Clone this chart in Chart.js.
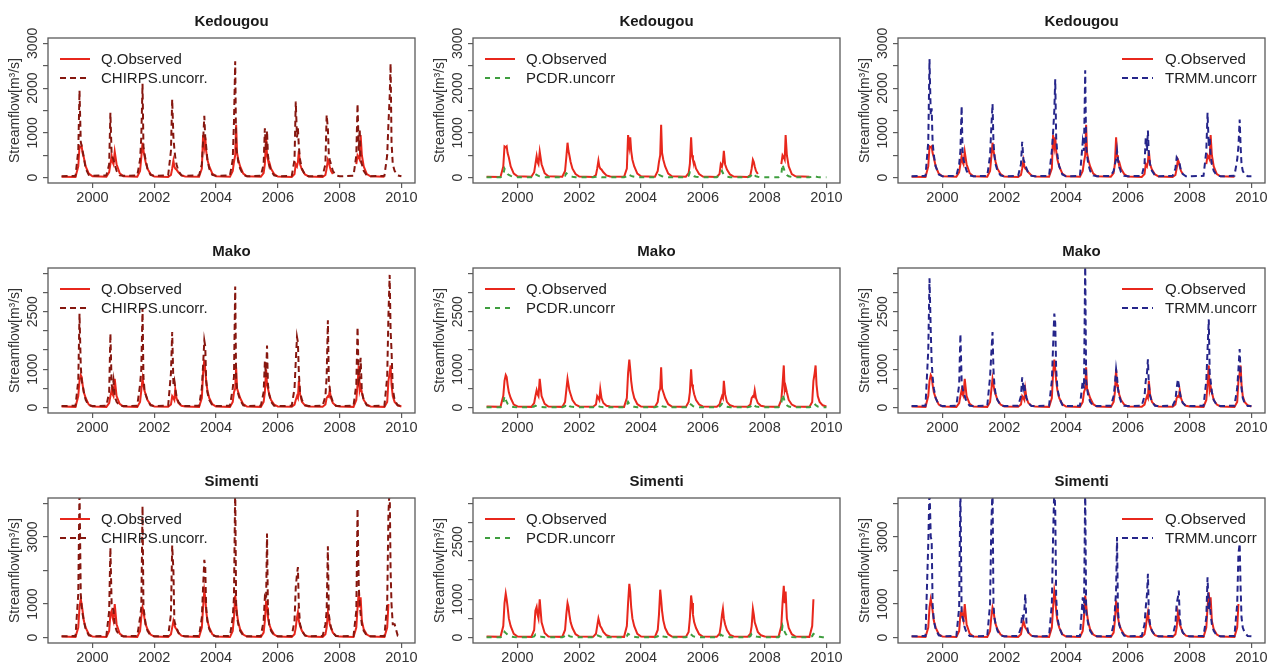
<!DOCTYPE html>
<html><head><meta charset="utf-8">
<script src="https://cdn.jsdelivr.net/npm/chart.js@4.4.0/dist/chart.umd.min.js"></script>
<style>
html,body{margin:0;padding:0;background:#fff;width:1274px;height:664px;overflow:hidden;}
canvas{position:absolute;}
</style></head><body>
<script>
// decimal-year sample dates (same for every series)
const dates = [
1999.00,1999.45,1999.54,1999.58,1999.62,1999.65,1999.68,1999.72,1999.78,1999.88,
2000.00,2000.45,2000.54,2000.58,2000.62,2000.65,2000.68,2000.72,2000.78,2000.88,
2001.00,2001.45,2001.54,2001.58,2001.62,2001.65,2001.68,2001.72,2001.78,2001.88,
2002.00,2002.45,2002.54,2002.58,2002.62,2002.65,2002.68,2002.72,2002.78,2002.88,
2003.00,2003.45,2003.54,2003.58,2003.62,2003.65,2003.68,2003.72,2003.78,2003.88,
2004.00,2004.45,2004.54,2004.58,2004.62,2004.65,2004.68,2004.72,2004.78,2004.88,
2005.00,2005.45,2005.54,2005.58,2005.62,2005.65,2005.68,2005.72,2005.78,2005.88,
2006.00,2006.45,2006.54,2006.58,2006.62,2006.65,2006.68,2006.72,2006.78,2006.88,
2007.00,2007.45,2007.54,2007.58,2007.62,2007.65,2007.68,2007.72,2007.78,2007.88,
2008.00,2008.45,2008.54,2008.58,2008.62,2008.65,2008.68,2008.72,2008.78,2008.88,
2009.00,2009.45,2009.54,2009.58,2009.62,2009.65,2009.68,2009.72,2009.78,2009.88,
2010.00];

const stations = ['Kedougou','Mako','Simenti'];
const products = ['CHIRPS.uncorr.','PCDR.uncorr','TRMM.uncorr'];
const xTickYears = [2000,2002,2004,2006,2008,2010];

// ---- Kedougou ----
const kedObs = [
20,15,250,700,680,700,550,450,250,90,
30,20,120,300,480,350,300,580,300,100,
30,20,150,450,780,600,500,350,200,80,
25,15,60,200,380,250,200,180,120,50,
25,20,200,950,700,900,600,400,250,90,
30,20,150,350,500,1180,550,400,250,90,
30,20,100,300,900,500,400,350,200,80,
25,15,80,300,250,350,600,300,180,70,
25,15,60,200,400,350,250,150,80,null,
null,null,300,500,450,400,950,500,250,80,
30,20,null,null,null,null,null,null,null,null,
null];
const kedChirps = [
30,40,600,1950,800,700,600,450,200,60,
40,50,300,1450,500,450,400,300,150,50,
40,50,400,900,2100,700,550,400,200,60,
40,50,600,1750,900,650,450,300,150,50,
40,50,300,800,1380,900,700,400,200,60,
40,50,400,1250,2600,650,550,350,200,60,
30,40,300,1100,600,1050,500,300,150,50,
30,40,400,1700,900,1100,700,400,200,60,
30,40,300,1400,1100,500,400,300,150,50,
30,40,500,1650,600,1100,400,300,150,50,
30,40,500,1200,1800,2550,800,300,150,50,
30];
const kedPcdr = [
10,10,60,200,150,120,80,60,40,20,
10,10,30,80,60,50,40,30,20,10,
10,10,40,100,80,60,40,30,20,10,
10,10,20,30,25,20,15,10,10,10,
10,10,30,80,60,50,40,30,20,10,
10,10,30,60,50,40,30,20,15,10,
10,10,40,120,90,70,50,30,20,10,
10,10,50,100,150,100,70,40,20,10,
10,10,30,60,100,80,50,30,20,10,
10,10,80,300,200,150,100,60,30,15,
10,10,20,40,30,25,20,15,10,10,
10];
const kedTrmm = [
30,40,800,2650,1400,1550,800,500,250,70,
30,40,300,600,1600,600,400,300,150,50,
30,40,500,1100,1650,800,500,300,150,50,
30,40,300,800,400,350,300,200,100,40,
30,40,600,1000,1500,2200,900,500,250,70,
30,40,800,600,2400,700,500,300,150,50,
30,40,150,300,400,600,400,250,120,40,
30,40,300,900,600,1050,500,300,150,50,
30,40,200,450,400,350,300,150,80,30,
30,40,600,1450,700,900,500,300,150,50,
30,40,400,700,1300,700,300,150,80,30,
30];

// ---- Mako ----
const makObs = [
30,20,300,700,850,800,600,400,250,80,
30,20,120,300,450,350,300,750,300,100,
30,20,150,450,750,600,450,350,200,80,
30,20,80,300,250,200,480,250,120,50,
30,20,250,900,1250,1000,700,450,250,90,
30,20,150,400,500,1050,500,400,250,90,
30,20,150,400,1000,600,500,350,200,80,
30,20,80,200,300,250,700,350,150,60,
30,20,80,250,300,280,450,250,120,50,
30,20,200,600,1100,450,550,400,200,80,
30,20,150,700,900,1100,600,300,150,60,
30];
const makChirps = [
40,50,700,2450,1100,700,600,400,200,60,
40,50,400,1930,600,500,700,300,150,50,
40,50,600,1000,2600,800,500,350,200,60,
40,50,900,1970,600,700,500,300,150,50,
40,50,500,1100,1750,1600,700,400,200,60,
40,50,500,800,3160,700,500,350,200,60,
40,50,400,1200,800,1620,600,350,150,50,
40,50,500,1200,1840,1700,900,400,200,60,
40,50,300,800,2280,700,500,300,150,50,
40,50,600,2100,700,800,1300,400,200,60,
40,50,800,2400,3460,2000,1500,500,200,60,
40];
const makPcdr = [
10,10,100,300,200,150,100,60,30,15,
10,10,30,50,40,35,30,20,15,10,
10,10,40,100,80,60,40,30,20,10,
10,10,20,50,40,30,25,20,10,10,
10,10,50,150,100,80,60,40,20,10,
10,10,30,80,60,50,40,30,20,10,
10,10,40,100,80,60,40,30,20,10,
10,10,30,60,100,80,50,30,20,10,
10,10,30,60,100,80,50,30,20,10,
10,10,100,350,250,150,100,60,30,15,
10,10,30,80,100,70,50,30,20,10,
10];
const makTrmm = [
40,50,1500,3370,2000,1200,800,500,250,70,
40,50,600,1920,700,500,400,300,150,50,
40,50,800,1400,1970,1000,600,350,200,60,
40,50,300,790,500,600,400,250,120,40,
40,50,700,1600,2450,2200,1000,500,250,70,
40,50,700,500,3800,700,500,300,150,50,
40,50,300,600,1000,800,500,300,150,50,
40,50,300,700,900,1260,600,300,150,50,
40,50,200,500,740,600,400,250,120,40,
40,50,700,1500,2300,900,700,400,200,60,
40,50,500,1000,1530,900,500,250,120,40,
40];

// ---- Simenti ----
const simObs = [
30,20,300,900,1150,1000,800,500,300,100,
30,20,200,700,800,600,500,1000,400,120,
30,20,200,600,900,800,600,400,250,90,
30,20,100,300,500,400,300,250,150,60,
30,20,300,900,1400,1200,800,500,300,100,
30,20,200,600,1250,1000,700,450,250,90,
30,20,150,500,1100,900,600,400,250,90,
30,20,100,300,600,750,500,350,200,70,
30,20,100,300,750,600,400,300,150,60,
30,20,300,900,1350,900,1200,500,250,90,
30,20,300,1000,null,null,null,null,null,null,
null];
const simChirps = [
40,50,1300,4500,1300,900,700,500,250,70,
40,50,800,2680,1000,900,800,400,200,60,
40,50,600,900,3920,900,700,400,200,60,
40,50,700,2750,2000,500,400,300,150,50,
40,50,600,1500,2320,2100,900,500,250,70,
40,50,600,1200,4500,900,600,400,200,60,
40,50,500,1200,1100,3100,800,400,200,60,
40,50,500,1500,1900,2100,900,400,200,60,
40,50,400,800,2720,700,500,300,150,50,
40,50,800,3850,1500,1000,700,400,200,60,
40,50,1000,3700,4500,2000,1000,400,400,60,
40];
const simPcdr = [
10,10,60,150,120,100,70,50,30,15,
10,10,30,80,60,50,40,30,20,10,
10,10,40,100,80,60,40,30,20,10,
10,10,20,60,50,40,30,20,10,10,
10,10,40,100,80,60,40,30,20,10,
10,10,30,80,60,50,40,30,20,10,
10,10,40,100,80,60,40,30,20,10,
10,10,30,80,60,50,40,30,20,10,
10,10,40,100,80,60,40,30,20,10,
10,10,100,300,200,150,100,60,30,15,
10,10,40,100,80,60,40,30,20,10,
10];
const simTrmm = [
40,50,2800,4500,3000,2900,1000,500,250,70,
40,50,900,4500,700,600,500,300,150,50,
40,50,1000,3300,4500,1000,600,400,200,60,
40,50,300,700,600,800,1300,400,150,50,
40,50,1000,3000,4500,3800,1200,600,300,80,
40,50,1200,700,4500,800,600,400,200,60,
40,50,400,800,1400,3000,800,400,200,60,
40,50,400,900,1300,1900,700,400,200,60,
40,50,400,1000,1200,1400,600,300,150,50,
40,50,600,1800,800,1000,700,400,200,60,
40,50,1000,2500,2800,1500,600,300,150,50,
40];

// axis settings per panel [row][col]
const yMaxes = [[3000,3000,3000],[3500,3500,3500],[4000,3500,4000]];
const ySteps = [[500,500,500],[500,500,500],[1000,500,1000]];
const yLabelVals = [
  [[0,1000,2000,3000],[0,1000,2000,3000],[0,1000,2000,3000]],
  [[0,1000,2500],[0,1000,2500],[0,1000,2500]],
  [[0,1000,3000],[0,1000,2500],[0,1000,3000]]];

const obsSeries = [kedObs, makObs, simObs];
const prodSeries = [[kedChirps,kedPcdr,kedTrmm],[makChirps,makPcdr,makTrmm],[simChirps,simPcdr,simTrmm]];

const OBS_COLOR = '#e8271c';
const PROD_COLORS = ['#86170f','#3f9e3f','#25258a'];
const PROD_DASH = [[6,4],[5,5],[6,4]];
const FONT = '"Liberation Sans", Arial, Helvetica, sans-serif';

const decor = {
  id: 'decor',
  afterDraw(chart, args, o) {
    const ctx = chart.ctx, ca = chart.chartArea;
    ctx.save();
    // box
    ctx.strokeStyle = '#5a5a5a'; ctx.lineWidth = 1.3; ctx.setLineDash([]);
    ctx.strokeRect(ca.left, ca.top, ca.right - ca.left, ca.bottom - ca.top);
    // title
    ctx.fillStyle = '#1a1a1a';
    ctx.font = 'bold 15px ' + FONT;
    ctx.textAlign = 'center'; ctx.textBaseline = 'middle';
    ctx.fillText(o.title, (ca.left + ca.right) / 2, ca.top - 16.5);
    // rotated y tick labels
    const ys = chart.scales.y;
    ctx.font = '14px ' + FONT; ctx.fillStyle = '#333';
    o.yLabels.forEach(v => {
      const py = ys.getPixelForValue(v);
      ctx.save();
      ctx.translate(33, py);
      ctx.rotate(-Math.PI / 2);
      ctx.fillText(String(v), 0, 0);
      ctx.restore();
    });
    // legend
    let lx1, lx2, tx;
    if (o.legendRight) { lx1 = ca.right - 143; lx2 = ca.right - 112; tx = ca.right - 100; }
    else { lx1 = ca.left + 12; lx2 = ca.left + 42; tx = ca.left + 53; }
    const items = [
      {t: 'Q.Observed', c: OBS_COLOR, d: []},
      {t: o.prodName, c: o.prodColor, d: o.prodDash}];
    ctx.font = '15px ' + FONT; ctx.textAlign = 'left'; ctx.textBaseline = 'middle';
    items.forEach((it, i) => {
      const y = ca.top + 21 + i * 19;
      ctx.strokeStyle = it.c; ctx.lineWidth = 2; ctx.setLineDash(it.d);
      ctx.beginPath(); ctx.moveTo(lx1, y); ctx.lineTo(lx2, y); ctx.stroke();
      ctx.setLineDash([]);
      ctx.fillStyle = '#222';
      ctx.fillText(it.t, tx, y + 0.5);
    });
    ctx.restore();
  }
};

const rowTops = [0, 230, 460];
const colLefts = [0, 425, 850];

for (let r = 0; r < 3; r++) {
  for (let c = 0; c < 3; c++) {
    const cv = document.createElement('canvas');
    const W = 425, H = 204;
    cv.width = W; cv.height = H;
    cv.style.left = colLefts[c] + 'px'; cv.style.top = rowTops[r] + 'px';
    cv.style.width = W + 'px'; cv.style.height = H + 'px';
    document.body.appendChild(cv);
    const ymax = yMaxes[r][c], step = ySteps[r][c];
    const obs = obsSeries[r], prod = prodSeries[r][c];
    const toXY = arr => dates.map((d, i) => ({x: d, y: arr[i]}));
    new Chart(cv, {
      type: 'line',
      data: {
        datasets: [
          {label: products[c], data: toXY(prod), borderColor: PROD_COLORS[c], borderWidth: 2,
           borderDash: PROD_DASH[c], pointRadius: 0, tension: 0, spanGaps: false},
          {label: 'Q.Observed', data: toXY(obs), borderColor: OBS_COLOR, borderWidth: 2,
           pointRadius: 0, tension: 0, spanGaps: false}
        ]
      },
      options: {
        responsive: false, animation: false, devicePixelRatio: 1,
        layout: {padding: {left: 0, right: 10, top: 38, bottom: 0}},
        plugins: {
          legend: {display: false}, tooltip: {enabled: false},
          decor: {title: stations[r], yLabels: yLabelVals[r][c], legendRight: c === 2,
                  prodName: products[c], prodColor: PROD_COLORS[c], prodDash: PROD_DASH[c]}
        },
        scales: {
          x: {
            type: 'linear', min: 1998.56, max: 2010.44,
            afterBuildTicks: s => { s.ticks = xTickYears.map(v => ({value: v})); },
            afterFit: s => { s.height = 21; },
            ticks: {callback: v => String(v), color: '#333', font: {family: FONT, size: 14.5}, padding: 1, maxRotation: 0},
            grid: {drawOnChartArea: false, drawTicks: true, tickLength: 5, color: '#5a5a5a', lineWidth: 1.2},
            border: {display: false}
          },
          y: {
            type: 'linear', min: -0.04 * ymax, max: 1.04 * ymax,
            afterBuildTicks: s => { const t = []; for (let v = 0; v <= ymax; v += step) t.push({value: v}); s.ticks = t; },
            afterFit: s => { s.width = 48; },
            ticks: {display: false},
            grid: {drawOnChartArea: false, drawTicks: true, tickLength: 5, color: '#5a5a5a', lineWidth: 1.2},
            border: {display: false},
            title: {display: true, text: 'Streamflow[m³/s]', color: '#333', font: {family: FONT, size: 14},
                    padding: {top: 6.6, bottom: 0}}
          }
        }
      },
      plugins: [decor]
    });
  }
}
</script>
</body></html>
